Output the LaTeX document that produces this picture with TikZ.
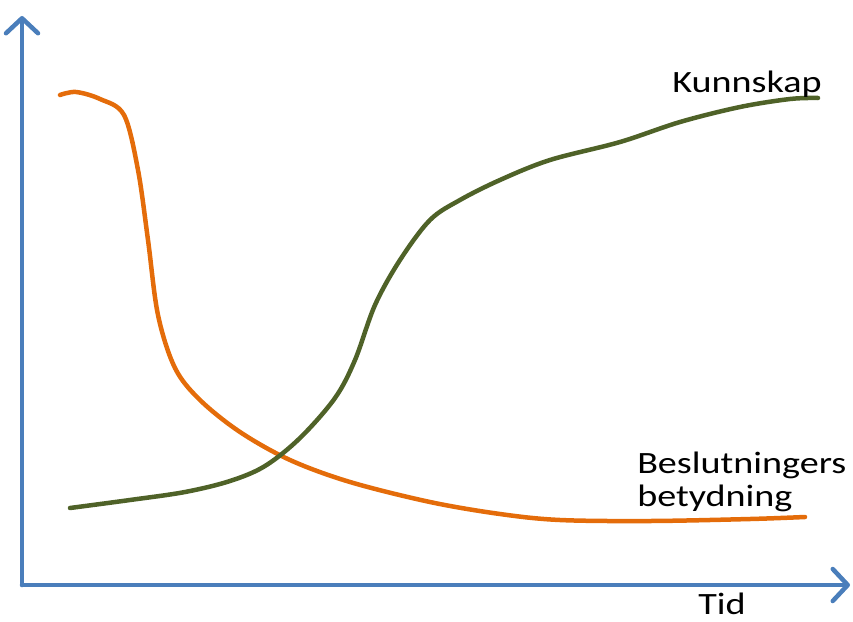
\documentclass[tikz,border=0pt]{standalone}
\usepackage{fontspec}
\setmainfont{Carlito}
\usetikzlibrary{arrows.meta}
\definecolor{axisblue}{HTML}{4A7EBB}
\definecolor{curveorange}{HTML}{E46C0A}
\definecolor{curvegreen}{HTML}{4F6228}
\tikzset{
  axis/.style={draw=axisblue, line width=4.5pt, line cap=round,
    -{Straight Barb[length=15pt, width=32pt, line cap=round, line join=round]}},
  curve/.style={line width=4.5pt, line cap=round, smooth, tension=0.55},
  label/.style={font=\fontsize{31}{35}\selectfont, text=black, inner sep=0pt, xscale=1.23}
}
\begin{document}
\begin{tikzpicture}[x=1pt, y=-1pt]
  \useasboundingbox (0,0) rectangle (853,621);
  % axes
  \coordinate (origin) at (22,585);
  \coordinate (ytop) at (22,16);
  \coordinate (xend) at (850,585);
  \draw[axis] (origin) -- (ytop);
  \draw[axis] (origin) -- (xend);
  % importance of decisions
  \draw[curve, draw=curveorange] plot coordinates {
    (60,95) (76,92) (100,99) (124,115) (138,170) (148,240) (158,315)
    (175,368) (200,400) (240,432) (290,460) (350,482) (430,502)
    (500,514) (560,520) (650,521) (750,519) (805,517)};
  % knowledge
  \draw[curve, draw=curvegreen] plot coordinates {
    (70,508) (130,500) (185,492) (230,481) (265,466) (300,438)
    (335,398) (355,360) (375,305) (400,260) (430,220) (460,200)
    (500,180) (550,160) (620,142) (680,122) (740,107) (790,99) (818,98)};
  % labels
  \node[label, anchor=base] (tid) at (722,614) {Tid};
  \node[label, anchor=base] (kunnskap) at (747,92) {Kunnskap};
  \node[label, anchor=base west] (beslutn) at (637,473) {Beslutningers};
  \node[label, anchor=base west] (betyd) at (637,506) {betydning};
\end{tikzpicture}
\end{document}
